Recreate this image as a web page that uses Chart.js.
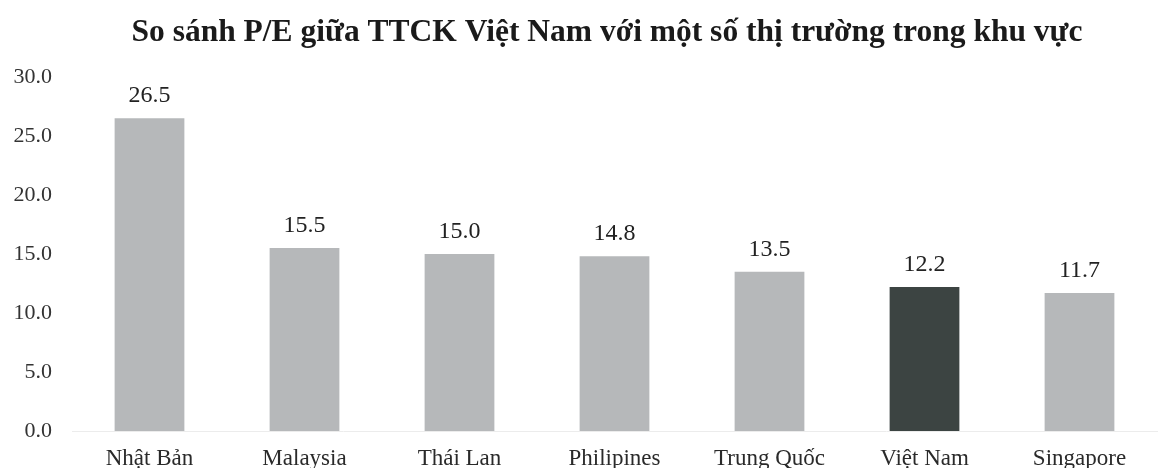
<!DOCTYPE html>
<html>
<head>
<meta charset="utf-8">
<script src="https://cdn.jsdelivr.net/npm/chart.js@4.4.1/dist/chart.umd.min.js"></script>
<style>
  html, body { margin: 0; padding: 0; background: #fff; }
  .chart-box { width: 1159px; height: 468px; }
</style>
</head>
<body>
<div class="chart-box"><canvas id="peChart"></canvas></div>
<script>
const chartTitle = 'So sánh P/E giữa TTCK Việt Nam với một số thị trường trong khu vực';
const markets = ['Nhật Bản', 'Malaysia', 'Thái Lan', 'Philipines', 'Trung Quốc', 'Việt Nam', 'Singapore'];
const peValues = [26.5, 15.5, 15.0, 14.8, 13.5, 12.2, 11.7];
const yTicks = [0, 5, 10, 15, 20, 25, 30];

const serif = '"Liberation Serif", "DejaVu Serif", serif';
const barColors = markets.map(m => m === 'Việt Nam' ? '#3c4442' : '#b6b8ba');

// tiêu đề lệch phải một chút như bản gốc
const titleText = {
    id: 'titleText',
    afterDraw(chart) {
        const ctx = chart.ctx;
        ctx.save();
        ctx.font = 'bold 31.5px ' + serif;
        ctx.fillStyle = '#1a1a1a';
        ctx.textAlign = 'center';
        ctx.textBaseline = 'alphabetic';
        ctx.fillText(chartTitle, 607, 41);
        ctx.restore();
    }
};

// ghi giá trị lên đầu mỗi cột
const valueLabels = {
    id: 'valueLabels',
    afterDatasetsDraw(chart) {
        const ctx = chart.ctx;
        const meta = chart.getDatasetMeta(0);
        ctx.save();
        ctx.font = '24px ' + serif;
        ctx.fillStyle = '#222';
        ctx.textAlign = 'center';
        ctx.textBaseline = 'alphabetic';
        meta.data.forEach((bar, i) => {
            ctx.fillText(peValues[i].toFixed(1), bar.x, bar.y - 16);
        });
        ctx.restore();
    }
};

new Chart(document.getElementById('peChart'), {
    type: 'bar',
    data: {
        labels: markets,
        datasets: [{
            data: peValues,
            backgroundColor: barColors,
            borderWidth: 0,
            barPercentage: 0.9,
            categoryPercentage: 0.5
        }]
    },
    options: {
        responsive: true,
        maintainAspectRatio: false,
        animation: false,
        layout: { padding: { top: 77, right: 2, bottom: 0, left: 0 } },
        scales: {
            x: {
                afterFit: s => { s.height = 37; },
                grid: { display: false },
                border: { display: true, color: '#ececec' },
                ticks: {
                    color: '#2a2a2a',
                    padding: 6,
                    font: { family: serif, size: 23 }
                }
            },
            y: {
                min: 0,
                max: 30,
                afterFit: s => { s.width = 72; },
                afterBuildTicks: s => { s.ticks = yTicks.map(v => ({ value: v })); },
                grid: { display: false },
                border: { display: false },
                ticks: {
                    color: '#333',
                    padding: 12,
                    callback: v => v.toFixed(1),
                    font: { family: serif, size: 22 }
                }
            }
        },
        plugins: {
            legend: { display: false },
            tooltip: { enabled: false },
            title: { display: false }
        }
    },
    plugins: [valueLabels, titleText]
});
</script>
</body>
</html>
